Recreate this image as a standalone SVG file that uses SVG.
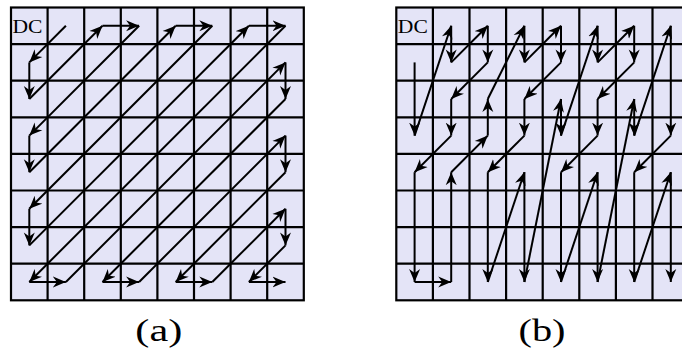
<svg xmlns="http://www.w3.org/2000/svg" xmlns:xlink="http://www.w3.org/1999/xlink" width="682" height="349" viewBox="0 0 682 349">
<style>
.cell{fill:#e4e4f7;stroke:#000;stroke-width:2.2}
.gl{fill:none;stroke:#000;stroke-width:2.2}
.ar line{stroke:#000;stroke-width:2;marker-end:url(#ah)}
.lbl{font-family:"Liberation Serif","Times New Roman",serif;fill:#000}
</style>
<defs>
<marker id="ah" markerUnits="userSpaceOnUse" markerWidth="14" markerHeight="12" refX="13" refY="5.5" orient="auto" viewBox="0 0 14 11"><path d="M13,5.5 L0,0 L4,5.5 L0,11 Z" fill="#000"/></marker>
<g id="grid">
<rect class="cell" x="11" y="7.5" width="292.8" height="292.8"/>
<path class="gl" d="M47.6,7.5V300.3M84.2,7.5V300.3M120.8,7.5V300.3M157.4,7.5V300.3M194,7.5V300.3M230.6,7.5V300.3M267.2,7.5V300.3M11,44.1H303.8M11,80.7H303.8M11,117.3H303.8M11,153.9H303.8M11,190.5H303.8M11,227.1H303.8M11,263.7H303.8"/>
</g>
</defs>
<g id="gridA"><use xlink:href="#grid"/><text class="lbl" x="12.5" y="33" font-size="19" textLength="30" lengthAdjust="spacingAndGlyphs">DC</text></g>
<g id="gridB" transform="translate(385.3,0)"><use xlink:href="#grid"/><text class="lbl" x="12.5" y="33" font-size="19" textLength="30" lengthAdjust="spacingAndGlyphs">DC</text></g>
<g id="connectorsA" class="ar">
<line x1="65.9" y1="25.8" x2="29.3" y2="62.4"/>
<line x1="29.3" y1="62.4" x2="29.3" y2="99"/>
<line x1="29.3" y1="99" x2="102.5" y2="25.8"/>
<line x1="102.5" y1="25.8" x2="139.1" y2="25.8"/>
<line x1="139.1" y1="25.8" x2="29.3" y2="135.6"/>
<line x1="29.3" y1="135.6" x2="29.3" y2="172.2"/>
<line x1="29.3" y1="172.2" x2="175.7" y2="25.8"/>
<line x1="175.7" y1="25.8" x2="212.3" y2="25.8"/>
<line x1="212.3" y1="25.8" x2="29.3" y2="208.8"/>
<line x1="29.3" y1="208.8" x2="29.3" y2="245.4"/>
<line x1="29.3" y1="245.4" x2="248.9" y2="25.8"/>
<line x1="248.9" y1="25.8" x2="285.5" y2="25.8"/>
<line x1="285.5" y1="25.8" x2="29.3" y2="282"/>
<line x1="29.3" y1="282" x2="65.9" y2="282"/>
<line x1="65.9" y1="282" x2="285.5" y2="62.4"/>
<line x1="285.5" y1="62.4" x2="285.5" y2="99"/>
<line x1="285.5" y1="99" x2="102.5" y2="282"/>
<line x1="102.5" y1="282" x2="139.1" y2="282"/>
<line x1="139.1" y1="282" x2="285.5" y2="135.6"/>
<line x1="285.5" y1="135.6" x2="285.5" y2="172.2"/>
<line x1="285.5" y1="172.2" x2="175.7" y2="282"/>
<line x1="175.7" y1="282" x2="212.3" y2="282"/>
<line x1="212.3" y1="282" x2="285.5" y2="208.8"/>
<line x1="285.5" y1="208.8" x2="285.5" y2="245.4"/>
<line x1="285.5" y1="245.4" x2="248.9" y2="282"/>
<line x1="248.9" y1="282" x2="285.5" y2="282"/>
</g>
<g id="connectorsB" class="ar" transform="translate(385.3,0)">
<line x1="29.3" y1="62.4" x2="29.3" y2="135.6"/>
<line x1="29.3" y1="135.6" x2="65.9" y2="25.8"/>
<line x1="65.9" y1="25.8" x2="65.9" y2="62.4"/>
<line x1="65.9" y1="62.4" x2="102.5" y2="25.8"/>
<line x1="102.5" y1="25.8" x2="102.5" y2="62.4"/>
<line x1="102.5" y1="62.4" x2="65.9" y2="99"/>
<line x1="65.9" y1="99" x2="65.9" y2="135.6"/>
<line x1="65.9" y1="135.6" x2="29.3" y2="172.2"/>
<line x1="29.3" y1="172.2" x2="29.3" y2="282"/>
<line x1="29.3" y1="282" x2="65.9" y2="282"/>
<line x1="65.9" y1="282" x2="65.9" y2="172.2"/>
<line x1="65.9" y1="172.2" x2="102.5" y2="135.6"/>
<line x1="102.5" y1="135.6" x2="102.5" y2="99"/>
<line x1="102.5" y1="99" x2="139.1" y2="25.8"/>
<line x1="139.1" y1="25.8" x2="139.1" y2="62.4"/>
<line x1="139.1" y1="62.4" x2="175.7" y2="25.8"/>
<line x1="175.7" y1="25.8" x2="175.7" y2="62.4"/>
<line x1="175.7" y1="62.4" x2="139.1" y2="99"/>
<line x1="139.1" y1="99" x2="139.1" y2="135.6"/>
<line x1="139.1" y1="135.6" x2="102.5" y2="172.2"/>
<line x1="102.5" y1="172.2" x2="102.5" y2="282"/>
<line x1="102.5" y1="282" x2="139.1" y2="172.2"/>
<line x1="139.1" y1="172.2" x2="139.1" y2="282"/>
<line x1="139.1" y1="282" x2="175.7" y2="99"/>
<line x1="175.7" y1="99" x2="175.7" y2="135.6"/>
<line x1="175.7" y1="135.6" x2="212.3" y2="25.8"/>
<line x1="212.3" y1="25.8" x2="212.3" y2="62.4"/>
<line x1="212.3" y1="62.4" x2="248.9" y2="25.8"/>
<line x1="248.9" y1="25.8" x2="248.9" y2="62.4"/>
<line x1="248.9" y1="62.4" x2="212.3" y2="99"/>
<line x1="212.3" y1="99" x2="212.3" y2="135.6"/>
<line x1="212.3" y1="135.6" x2="175.7" y2="172.2"/>
<line x1="175.7" y1="172.2" x2="175.7" y2="282"/>
<line x1="175.7" y1="282" x2="212.3" y2="172.2"/>
<line x1="212.3" y1="172.2" x2="212.3" y2="282"/>
<line x1="212.3" y1="282" x2="248.9" y2="99"/>
<line x1="248.9" y1="99" x2="248.9" y2="135.6"/>
<line x1="248.9" y1="135.6" x2="285.5" y2="25.8"/>
<line x1="285.5" y1="25.8" x2="285.5" y2="135.6"/>
<line x1="285.5" y1="135.6" x2="248.9" y2="172.2"/>
<line x1="248.9" y1="172.2" x2="248.9" y2="282"/>
<line x1="248.9" y1="282" x2="285.5" y2="172.2"/>
<line x1="285.5" y1="172.2" x2="285.5" y2="282"/>
</g>
<text class="lbl" x="158.8" y="341" font-size="31" text-anchor="middle" textLength="47" lengthAdjust="spacingAndGlyphs">(a)</text>
<text class="lbl" x="542" y="341" font-size="31" text-anchor="middle" textLength="47" lengthAdjust="spacingAndGlyphs">(b)</text>
</svg>
